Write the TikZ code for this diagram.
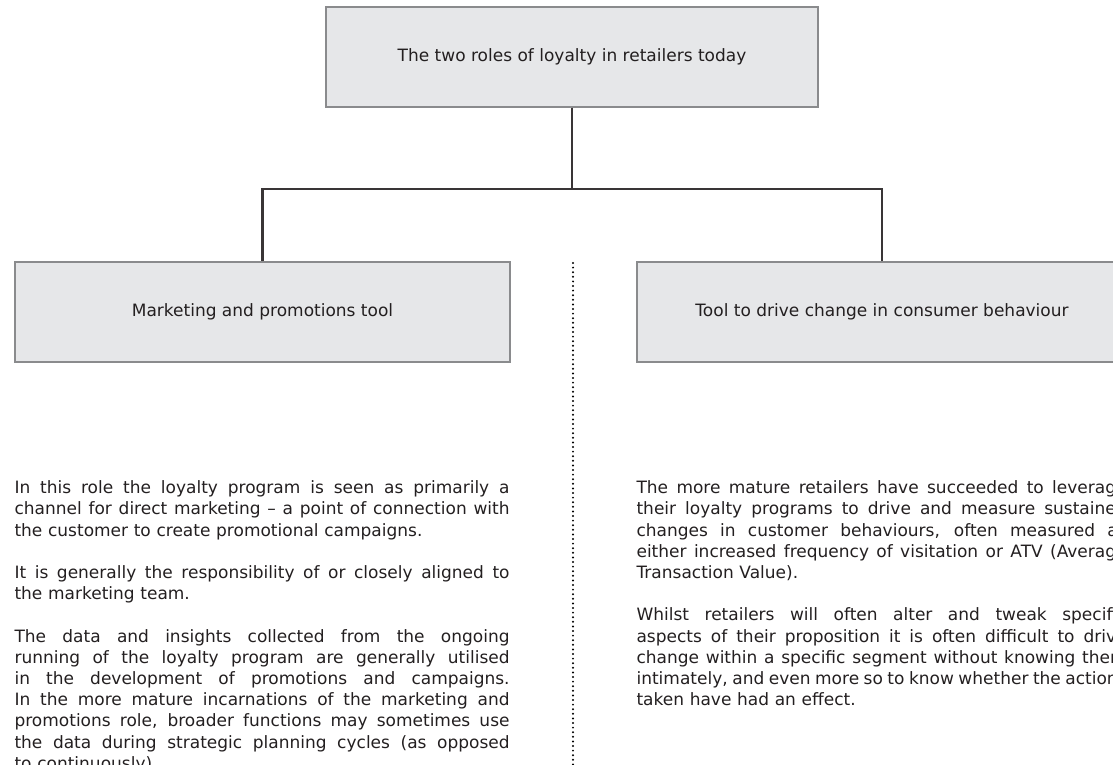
\documentclass[tikz,border=0pt]{standalone}
\usepackage{fontspec}
\setmainfont{DejaVu Sans}
\usetikzlibrary{positioning}
\definecolor{boxfill}{HTML}{E6E7E9}
\definecolor{boxline}{HTML}{8A8B8D}
\definecolor{inkgray}{HTML}{231F20}
\setlength{\parindent}{0pt}
\newlength{\colw}
% one justified line of a paragraph
\newcommand{\jl}[1]{\makebox[\colw][s]{\spaceskip=0.318em plus 1fil minus 0.1em\relax #1}\\}

\begin{document}
\begin{tikzpicture}[x=1pt, y=-1pt,
  rolebox/.style={draw=boxline, fill=boxfill, line width=1.3pt, minimum height=100pt,
                  align=center, inner sep=0pt, text=inkgray,
                  font=\fontsize{17pt}{20pt}\selectfont},
  conn/.style={draw=inkgray!90, line width=2.2pt},
  para/.style={align=left, inner sep=0pt, text=inkgray,
               font=\fontsize{17pt}{21.2pt}\selectfont},
  divider/.style={draw=black, line width=2.2pt, line cap=round, dash pattern=on 0pt off 4.6pt},
]
\clip (0,0) rectangle (1113,764);

% --- Boxes ---
\node[rolebox, minimum width=492pt] (roles) at (572,57) {The two roles of loyalty in retailers today};
\node[rolebox, minimum width=495pt] (mkt) at (262.5,312) {Marketing and promotions tool};
\node[rolebox, minimum width=490pt] (chg) at (882,312) {Tool to drive change in consumer behaviour};

% --- Tree connectors ---
\draw[conn] (roles.south) -- ++(0,81) -| (mkt.north);
\draw[conn] (roles.south) -- ++(0,81) -| (chg.north);

% --- Dotted divider between the columns ---
\coordinate (divtop) at (573,263);
\coordinate (divbot) at (573,770);
\draw[divider] (divtop) -- (divbot);

% --- Column texts ---
\node[para, text width=495pt, below right=118pt and 0pt of mkt.south west] (mkttext) {%
\setlength{\colw}{495pt}%
\jl{In this role the loyalty program is seen as primarily a}
\jl{channel for direct marketing – a point of connection with}
the customer to create promotional campaigns.\\[21.2pt]
\jl{It is generally the responsibility of or closely aligned to}
the marketing team.\\[21.2pt]
\jl{The data and insights collected from the ongoing}
\jl{running of the loyalty program are generally utilised}
\jl{in the development of promotions and campaigns.}
\jl{In the more mature incarnations of the marketing and}
\jl{promotions role, broader functions may sometimes use}
\jl{the data during strategic planning cycles (as opposed}
to continuously)};

\node[para, text width=490pt, below right=118pt and 0pt of chg.south west] (chgtext) {%
\setlength{\colw}{490pt}%
\jl{The more mature retailers have succeeded to leverage}
\jl{their loyalty programs to drive and measure sustained}
\jl{changes in customer behaviours, often measured as}
\jl{either increased frequency of visitation or ATV (Average}
Transaction Value).\\[21.2pt]
\jl{Whilst retailers will often alter and tweak specific}
\jl{aspects of their proposition it is often difficult to drive}
\jl{change within a specific segment without knowing them}
\jl{intimately, and even more so to know whether the actions}
taken have had an effect.};

\end{tikzpicture}
\end{document}
